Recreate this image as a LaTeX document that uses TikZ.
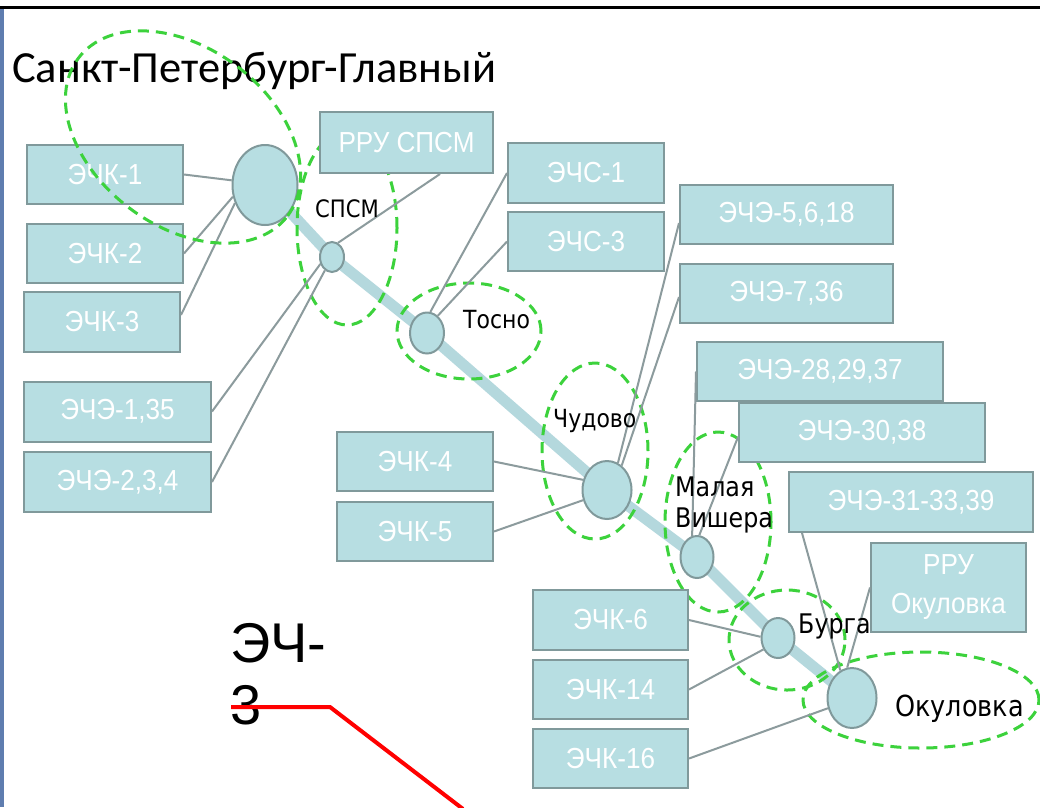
\documentclass[tikz,border=0pt]{standalone}
\usepackage{fontspec}
\usetikzlibrary{shapes.geometric,calc}
\newfontfamily\boxfont[FakeStretch=0.9]{Liberation Sans}
\newfontfamily\lblfont[FakeStretch=0.88]{DejaVu Sans}
\newfontfamily\titlefont{Carlito}
\newfontfamily\bigfont{Liberation Sans}
\definecolor{boxfill}{RGB}{183,222,226}
\definecolor{boxline}{RGB}{128,153,155}
\definecolor{linkgray}{RGB}{140,155,157}
\definecolor{trunkc}{RGB}{180,216,221}
\definecolor{zonegreen}{RGB}{60,210,60}
\definecolor{leftbar}{RGB}{95,125,175}
\tikzset{
  box/.style={draw=boxline, line width=2pt, fill=boxfill, inner sep=0pt, text=white,
    font=\boxfont\fontsize{29}{39}\selectfont, align=center},
  stn/.style={ellipse, draw=boxline, line width=2pt, fill=boxfill, inner sep=0pt},
  link/.style={draw=linkgray, line width=2pt},
  trunk/.style={draw=trunkc, line width=11pt, line join=round},
  zone/.style={draw=zonegreen, line width=3pt, dash pattern=on 11pt off 7pt},
  lbl/.style={text=black, inner sep=0pt, align=left},
  redline/.style={draw=red, line width=4pt},
}
\begin{document}
\begin{tikzpicture}[x=1pt,y=-1pt]
\fill[white] (0,0) rectangle (1040,807);
\useasboundingbox (0,0) rectangle (1040,807);
\fill[black] (0,6) rectangle (1040,9);
\fill[leftbar] (0,9) rectangle (4,807);

% station centres
\coordinate (cspb) at (265,185);
\coordinate (cspsm) at (332,257);
\coordinate (ctosno) at (427,333);
\coordinate (cchud) at (607,490);
\coordinate (cmv) at (697,557);
\coordinate (cburga) at (778,638);
\coordinate (cokul) at (852,698);

% trunk line
\draw[trunk] (cspb) -- (cspsm) -- (ctosno) -- (cchud) -- (cmv) -- (cburga) -- (cokul);

% zones (behind boxes)
\draw[zone] (347,228) ellipse [x radius=50pt, y radius=97pt];
\draw[zone] (469,331) ellipse [x radius=72pt, y radius=48pt];
\draw[zone] (595,451) ellipse [x radius=53pt, y radius=88pt];
\draw[zone] (718,522) ellipse [x radius=53pt, y radius=90pt];
\draw[zone] (787,640) ellipse [x radius=58pt, y radius=50pt];
\draw[zone] (921,700) ellipse [x radius=118pt, y radius=48pt];

% stations
\node[stn, minimum width=65pt, minimum height=80pt] (spb) at (cspb) {};
\node[stn, minimum width=24pt, minimum height=30pt] (spsm) at (cspsm) {};
\node[stn, minimum width=34pt, minimum height=41pt] (tosno) at (ctosno) {};
\node[stn, minimum width=49pt, minimum height=58pt] (chud) at (cchud) {};
\node[stn, minimum width=33pt, minimum height=42pt] (mv) at (cmv) {};
\node[stn, minimum width=33pt, minimum height=40pt] (burga) at (cburga) {};
\node[stn, minimum width=49pt, minimum height=60pt] (okul) at (cokul) {};

% boxes
\node[box, minimum width=156pt, minimum height=59pt] (e1) at (105,174.5) {ЭЧК-1};
\node[box, minimum width=156pt, minimum height=59pt] (e2) at (105,253.5) {ЭЧК-2};
\node[box, minimum width=156pt, minimum height=60pt] (e3) at (102,322) {ЭЧК-3};
\node[box, minimum width=173pt, minimum height=61pt] (rru1) at (406.5,142.5) {РРУ СПСМ};
\node[box, minimum width=156pt, minimum height=60pt] (s1) at (586,173) {ЭЧС-1};
\node[box, minimum width=156pt, minimum height=59pt] (s3) at (586,241.5) {ЭЧС-3};
\node[box, minimum width=213pt, minimum height=59pt] (e56) at (786.5,214.5) {ЭЧЭ-5,6,18};
\node[box, minimum width=213pt, minimum height=59pt] (e736) at (786.5,293.5) {ЭЧЭ-7,36};
\node[box, minimum width=246pt, minimum height=59pt] (e28) at (820,371.5) {ЭЧЭ-28,29,37};
\node[box, minimum width=246pt, minimum height=59pt] (e30) at (862,432.5) {ЭЧЭ-30,38};
\node[box, minimum width=244pt, minimum height=60pt] (e31) at (911,502) {ЭЧЭ-31-33,39};
\node[box, minimum width=155pt, minimum height=89pt] (rru2) at (948.5,587.5) {РРУ\\Окуловка};
\node[box, minimum width=187pt, minimum height=60pt] (e135) at (117.5,411.5) {ЭЧЭ-1,35};
\node[box, minimum width=187pt, minimum height=60pt] (e234) at (117.5,482) {ЭЧЭ-2,3,4};
\node[box, minimum width=156pt, minimum height=59pt] (k4) at (415,461.5) {ЭЧК-4};
\node[box, minimum width=156pt, minimum height=59pt] (k5) at (415,531.5) {ЭЧК-5};
\node[box, minimum width=155pt, minimum height=60pt] (k6) at (610.5,620) {ЭЧК-6};
\node[box, minimum width=155pt, minimum height=59pt] (k14) at (610.5,689.5) {ЭЧК-14};
\node[box, minimum width=155pt, minimum height=59pt] (k16) at (610.5,758.5) {ЭЧК-16};

% connectors
\draw[link] (e1.east) -- (spb.172);
\draw[link] (e2.east) -- (spb.200);
\draw[link] ($(e3.east)+(0,-7)$) -- (spb.211);
\draw[link] ($(rru1.south)+(33.5,0)$) -- (spsm.67);
\draw[link] (e135.east) -- (spsm.211);
\draw[link] (e234.east) -- (spsm.242);
\draw[link] (s1.west) -- (tosno.81);
\draw[link] (s3.west) -- (tosno.58);
\draw[link] ($(e56.west)+(0,8.5)$) -- (chud.68);
\draw[link] ($(e736.west)+(0,3.5)$) -- (chud.59);
\draw[link] (k4.east) -- (chud.157);
\draw[link] (k5.east) -- (chud.203);
\draw[link] (e28.west) -- (mv.103);
\draw[link] ($(e30.west)+(0,4.5)$) -- (mv.84);
\draw[link] ($(e31.south west)+(14,0)$) -- (okul.113);
\draw[link] (rru2.west) -- (okul.99);
\draw[link] (k6.east) -- (burga.176);
\draw[link] (k14.east) -- (burga.218);
\draw[link] (k16.east) -- (okul.203);

% station labels
\node[lbl, anchor=base west, font=\lblfont\fontsize{24}{27}\selectfont] (lspsm) at (315,217) {СПСМ};
\node[lbl, anchor=base west, font=\lblfont\fontsize{25}{28}\selectfont] (ltosno) at (463,328) {Тосно};
\node[lbl, anchor=base west, font=\lblfont\fontsize{25}{29}\selectfont] (lchud) at (553,427) {Чудово};
\node[lbl, anchor=north west, font=\lblfont\fontsize{27}{31}\selectfont] (lmv) at (675,477) {Малая\\Вишера};
\node[lbl, anchor=base west, font=\lblfont\fontsize{27}{31}\selectfont] (lburga) at (798,633) {Бурга};
\node[lbl, anchor=base west, font=\lblfont\fontsize{29}{33}\selectfont] (lokul) at (895,716) {Окуловка};

% title
\node[anchor=base west, inner sep=0pt, font=\titlefont\fontsize{44.5}{50}\selectfont] (title) at (12,82) {Санкт-Петербург-Главный};

% SPb zone on top
\draw[zone, rotate around={-37:(183,137)}] (183,137) ellipse [x radius=131pt, y radius=89pt];

% ЭЧ-3 and red line
\node[anchor=north west, inner sep=0pt, align=left, font=\bigfont\fontsize{56}{62}\selectfont] (ech3) at (230,623) {ЭЧ-\\3};
\coordinate (r1) at (231,707);
\coordinate (r2) at (330,707);
\coordinate (r3) at (463,809);
\draw[redline] (r1) -- (r2) -- (r3);
\end{tikzpicture}
\end{document}
